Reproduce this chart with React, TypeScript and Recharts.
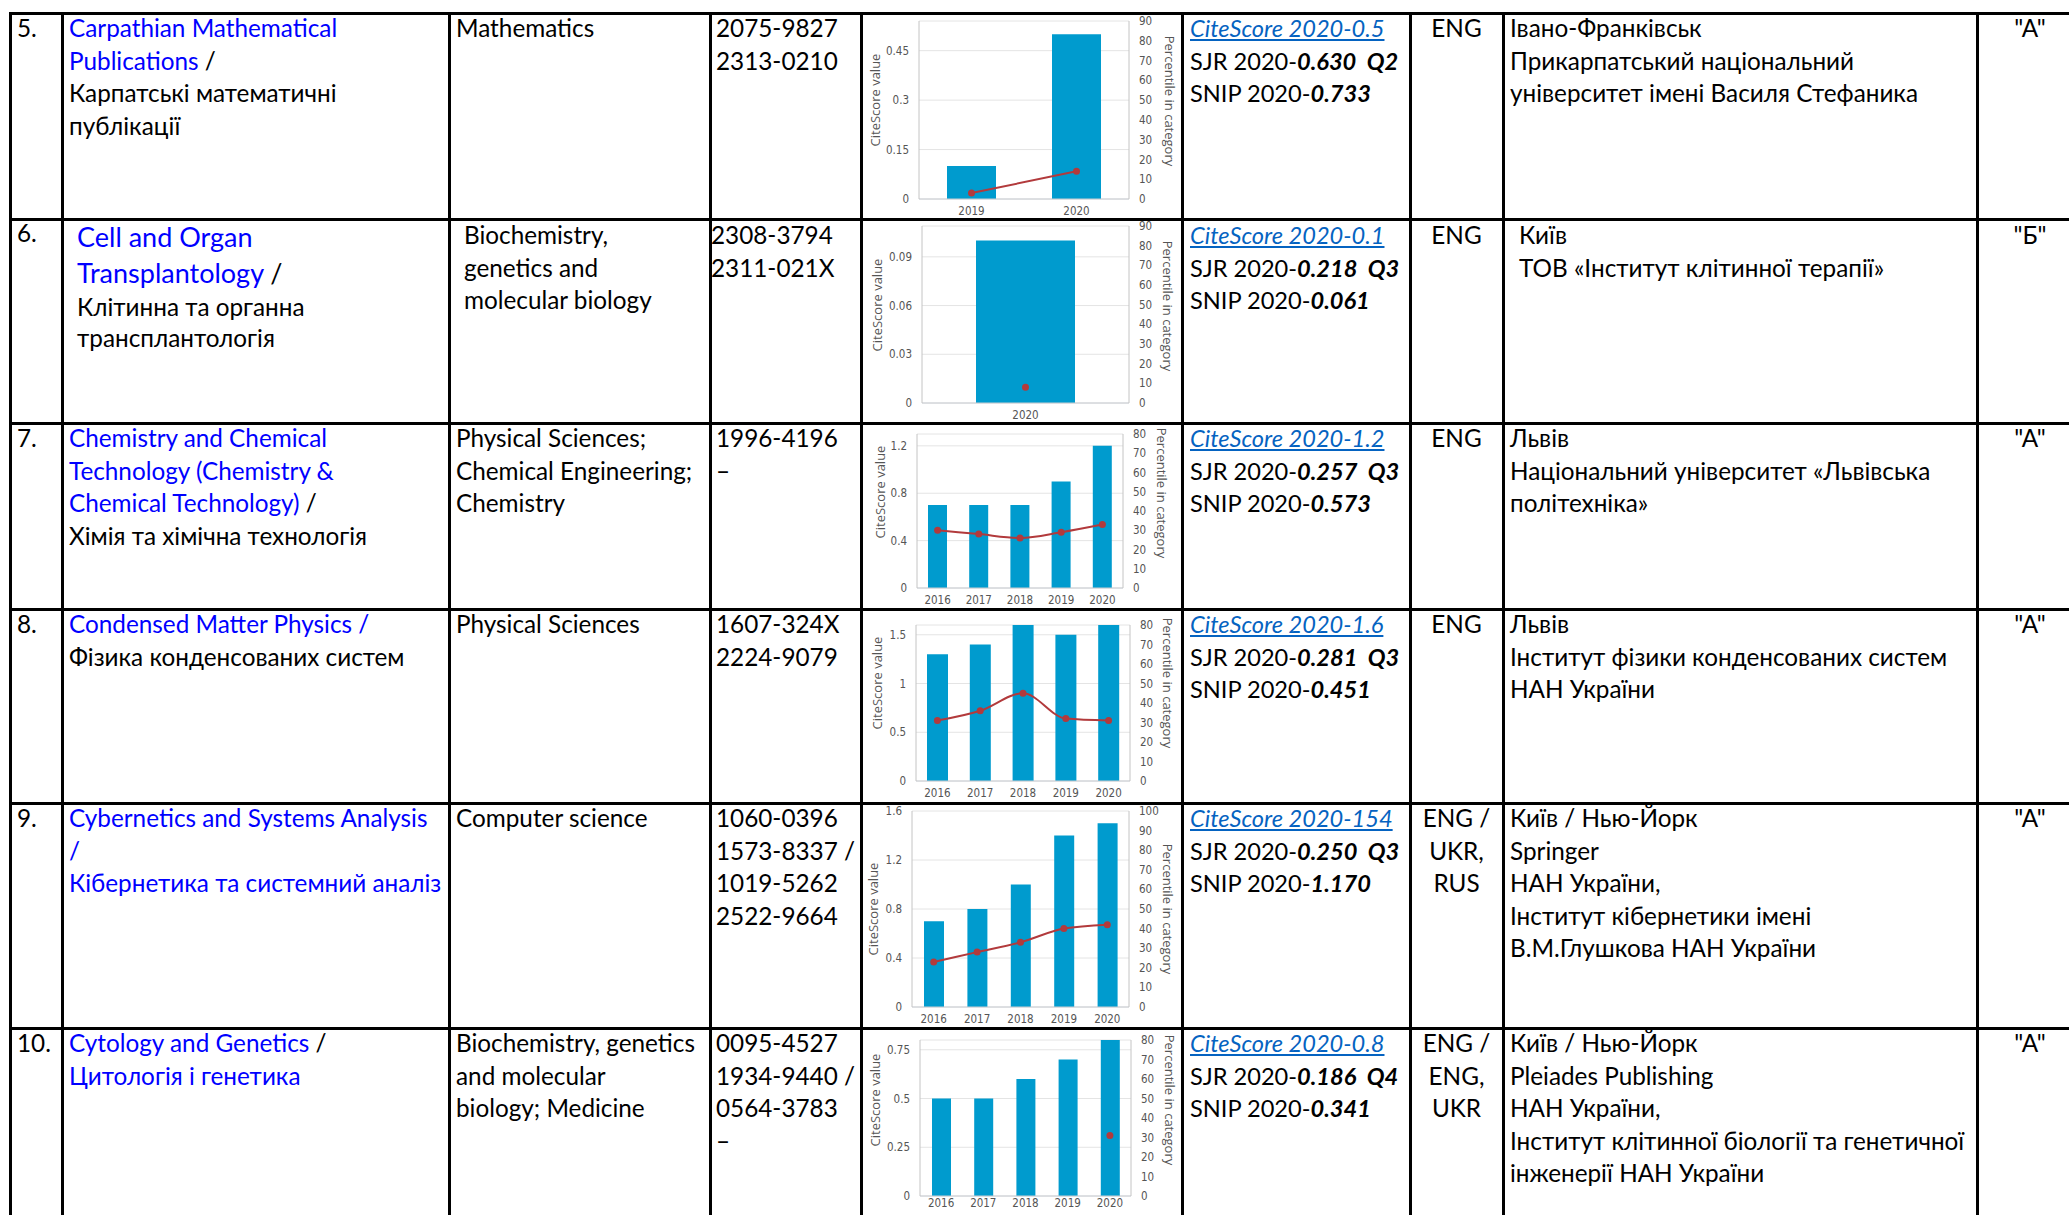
import React from "react";
import { ComposedChart, Bar, Line, XAxis, YAxis, CartesianGrid } from "recharts";

const FONT = "Lato, 'Open Sans', sans-serif";
const TICK_FONT = "'Liberation Sans Narrow', 'DejaVu Sans Condensed', 'Liberation Sans', sans-serif";
const BLUE = "#0000FF";
const LINK = "#0563C1";
const BAR = "#009BCE";
const RED = "#B23A3C";

// ---- chart data (CiteScore value, percentile in category) ----
const years5 = ["2019", "2020"];
const cite5 = [0.1, 0.5];
const pct5 = [3, 14];

const years6 = ["2020"];
const cite6 = [0.1];
const pct6 = [8];

const years5y = ["2016", "2017", "2018", "2019", "2020"];

const cite7 = [0.7, 0.7, 0.7, 0.9, 1.2];
const pct7 = [30, 28, 26, 29, 33];

const cite8 = [1.3, 1.4, 1.6, 1.5, 1.6];
const pct8 = [31, 36, 45, 32, 31];

const cite9 = [0.7, 0.8, 1.0, 1.4, 1.5];
const pct9 = [23, 28, 33, 40, 42];

const cite10 = [0.5, 0.5, 0.6, 0.7, 0.8];
const pct10 = [null, null, null, null, 31];

const pctTicks90 = [0, 10, 20, 30, 40, 50, 60, 70, 80, 90];
const pctTicks80 = [0, 10, 20, 30, 40, 50, 60, 70, 80];
const pctTicks100 = [0, 10, 20, 30, 40, 50, 60, 70, 80, 90, 100];

// ---- table text ----
const numbers = ["5.", "6.", "7.", "8.", "9.", "10."];
const subjects = [
  ["Mathematics"],
  ["Biochemistry,", "genetics and", "molecular biology"],
  ["Physical Sciences;", "Chemical Engineering;", "Chemistry"],
  ["Physical Sciences"],
  ["Computer science"],
  ["Biochemistry, genetics", "and molecular", "biology; Medicine"],
];
const issns = [
  ["2075-9827", "2313-0210"],
  ["2308-3794", "2311-021X"],
  ["1996-4196", "–"],
  ["1607-324X", "2224-9079"],
  ["1060-0396", "1573-8337 /", "1019-5262", "2522-9664"],
  ["0095-4527", "1934-9440 /", "0564-3783", "–"],
];
const citeScores = ["0.5", "0.1", "1.2", "1.6", "154", "0.8"];
const sjrs = ["0.630", "0.218", "0.257", "0.281", "0.250", "0.186"];
const quartiles = ["Q2", "Q3", "Q3", "Q3", "Q3", "Q4"];
const snips = ["0.733", "0.061", "0.573", "0.451", "1.170", "0.341"];
const langs = [["ENG"], ["ENG"], ["ENG"], ["ENG"], ["ENG /", "UKR,", "RUS"], ["ENG /", "ENG,", "UKR"]];
const places = [
  ["Івано-Франківськ", "Прикарпатський національний", "університет імені Василя Стефаника"],
  ["Київ", "ТОВ «Інститут клітинної терапії»"],
  ["Львів", "Національний університет «Львівська", "політехніка»"],
  ["Львів", "Інститут фізики конденсованих систем", "НАН України"],
  ["Київ / Нью-Йорк", "Springer", "НАН України,", "Інститут кібернетики імені", "В.М.Глушкова НАН України"],
  ["Київ / Нью-Йорк", "Pleiades Publishing", "НАН України,", "Інститут клітинної біології та генетичної", "інженерії НАН України"],
];
const grades = ['"А"', '"Б"', '"А"', '"А"', '"А"', '"А"'];

type Seg = { t: string; c?: string; b?: boolean; i?: boolean; u?: boolean };
type TL = string | Seg[];

const titles: TL[][] = [
  [[{ t: "Carpathian Mathematical", c: BLUE }], [{ t: "Publications", c: BLUE }, { t: " /" }], "Карпатські математичні", "публікації"],
  [],
  [[{ t: "Chemistry and Chemical", c: BLUE }], [{ t: "Technology (Chemistry &", c: BLUE }], [{ t: "Chemical Technology)", c: BLUE }, { t: " /" }], "Хімія та хімічна технологія"],
  [[{ t: "Condensed Matter Physics /", c: BLUE }], "Фізика конденсованих систем"],
  [[{ t: "Cybernetics and Systems Analysis", c: BLUE }], [{ t: "/", c: BLUE }], [{ t: "Кібернетика та системний аналіз", c: BLUE }]],
  [[{ t: "Cytology and Genetics", c: BLUE }, { t: " /" }], [{ t: "Цитологія і генетика", c: BLUE }]],
];

const ROW_TOP = [13, 219, 423, 609, 803, 1028];
const COL_X = [10, 62, 449, 710, 861, 1182, 1410, 1503, 1977];
const SIZE = 24.3;
const STEP = 32.5;

function T({ x, b, size = SIZE, line, center, style }: { x: number; b: number; size?: number; line: TL; center?: boolean; style?: React.CSSProperties }) {
  const segs: Seg[] = typeof line === "string" ? [{ t: line }] : line;
  const pos: React.CSSProperties = center
    ? { left: x - 150, width: 300, textAlign: "center" }
    : { left: x };
  return (
    <div style={{ position: "absolute", top: b - 0.887 * size, fontSize: size, lineHeight: `${size}px`, whiteSpace: "pre", color: "#000", ...pos, ...style }}>
      {segs.map((s, k) => (
        <span key={k} style={{ color: s.c, fontWeight: s.b ? 700 : 400, fontStyle: s.i ? "italic" : "normal", textDecoration: s.u ? "underline" : "none" }}>{s.t}</span>
      ))}
    </div>
  );
}

function Block({ x, b0, lines, step = STEP, size, center }: { x: number; b0: number; lines: TL[]; step?: number; size?: number; center?: boolean }) {
  return (
    <>
      {lines.map((l, i) => (
        <T key={i} x={x} b={b0 + i * step} line={l} size={size} center={center} />
      ))}
    </>
  );
}

type Cfg = {
  years: string[];
  cite: number[];
  pct: (number | null)[];
  box: { x: number; y: number; w: number; h: number };
  plot: { l: number; r: number; t: number; b: number };
  leftMax: number;
  leftTicks: number[];
  rightMax: number;
  rightTicks: number[];
  barSize: number;
  lt: [number, number];
  rt: [number, number];
  xm?: number;
};

const charts: Cfg[] = [
  { years: years5, cite: cite5, pct: pct5, box: { x: 861, y: 13, w: 321, h: 206 }, plot: { l: 919, r: 1129, t: 21, b: 199 }, leftMax: 0.54, leftTicks: [0, 0.15, 0.3, 0.45], rightMax: 90, rightTicks: pctTicks90, barSize: 49, lt: [875, 100], rt: [1170, 101] },
  { years: years6, cite: cite6, pct: pct6, box: { x: 861, y: 219, w: 321, h: 204 }, plot: { l: 922, r: 1129, t: 226, b: 403 }, leftMax: 0.109, leftTicks: [0, 0.03, 0.06, 0.09], rightMax: 90, rightTicks: pctTicks90, barSize: 99, lt: [877, 305], rt: [1168, 306] },
  { years: years5y, cite: cite7, pct: pct7, box: { x: 861, y: 423, w: 321, h: 186 }, plot: { l: 917, r: 1123, t: 434, b: 588 }, leftMax: 1.3, leftTicks: [0, 0.4, 0.8, 1.2], rightMax: 80, rightTicks: pctTicks80, barSize: 19, lt: [880, 492], rt: [1162, 493] },
  { years: years5y, cite: cite8, pct: pct8, box: { x: 861, y: 609, w: 321, h: 194 }, plot: { l: 916, r: 1130, t: 625, b: 781 }, leftMax: 1.6, leftTicks: [0, 0.5, 1, 1.5], rightMax: 80, rightTicks: pctTicks80, barSize: 21, lt: [877, 683], rt: [1168, 683] },
  { years: years5y, cite: cite9, pct: pct9, box: { x: 861, y: 803, w: 321, h: 225 }, plot: { l: 912, r: 1129, t: 811, b: 1007 }, leftMax: 1.6, leftTicks: [0, 0.4, 0.8, 1.2, 1.6], rightMax: 100, rightTicks: pctTicks100, barSize: 20, lt: [873, 909], rt: [1168, 909] },
  { years: years5y, cite: cite10, pct: pct10, box: { x: 861, y: 1028, w: 321, h: 187 }, plot: { l: 920, r: 1131, t: 1040, b: 1196 }, leftMax: 0.8, leftTicks: [0, 0.25, 0.5, 0.75], rightMax: 80, rightTicks: pctTicks80, barSize: 19, lt: [875, 1100], rt: [1170, 1100], xm: 3 },
];

const tick = { fontSize: 11.5, fill: "#555", fontFamily: TICK_FONT };
const titleStyle: React.CSSProperties = { fontSize: 13, fill: "#555", fontFamily: "'Open Sans', sans-serif" };

function MiniChart({ cfg }: { cfg: Cfg }) {
  const { box, plot } = cfg;
  const data = cfg.years.map((y, i) => ({ year: y, cite: cfg.cite[i], pct: cfg.pct[i] }));
  const lx = cfg.lt[0] - box.x, ly = cfg.lt[1] - box.y;
  const rx = cfg.rt[0] - box.x, ry = cfg.rt[1] - box.y;
  return (
    <div style={{ position: "absolute", left: box.x, top: box.y, width: box.w, height: box.h }}>
      <ComposedChart width={box.w} height={box.h} data={data} margin={{ top: plot.t - box.y, right: 0, bottom: 0, left: 0 }}>
        <CartesianGrid vertical={false} stroke="#e4e4e4" />
        <XAxis dataKey="year" height={box.y + box.h - plot.b} tickLine={false} tickSize={0} tickMargin={cfg.xm ?? 8} interval={0} axisLine={{ stroke: "#c8ccd2" }} tick={tick} />
        <YAxis
          width={plot.l - box.x}
          domain={[0, cfg.leftMax]}
          ticks={cfg.leftTicks}
          interval={0}
          tickLine={false}
          tickSize={0}
          tickMargin={10}
          axisLine={{ stroke: "#c4c4c4" }}
          tick={tick}
          label={{ content: () => <text x={lx} y={ly} transform={`rotate(-90 ${lx} ${ly})`} textAnchor="middle" dominantBaseline="central" style={titleStyle}>CiteScore value</text> }}
        />
        <YAxis
          yAxisId="right"
          orientation="right"
          width={box.x + box.w - plot.r}
          domain={[0, cfg.rightMax]}
          ticks={cfg.rightTicks}
          interval={0}
          tickLine={false}
          tickSize={0}
          tickMargin={10}
          axisLine={{ stroke: "#c4c4c4" }}
          tick={tick}
          label={{ content: () => <text x={rx} y={ry} transform={`rotate(90 ${rx} ${ry})`} textAnchor="middle" dominantBaseline="central" style={titleStyle}>Percentile in category</text> }}
        />
        <Bar dataKey="cite" fill={BAR} barSize={cfg.barSize} isAnimationActive={false} />
        <Line yAxisId="right" type="monotone" dataKey="pct" stroke={RED} strokeWidth={2} dot={{ r: 3.5, fill: RED, stroke: RED, strokeWidth: 0 }} isAnimationActive={false} />
      </ComposedChart>
    </div>
  );
}

export default function App() {
  return (
    <div style={{ position: "absolute", left: 0, top: 0, width: 2069, height: 1215, overflow: "hidden", background: "#fff", fontFamily: FONT }}>
      {charts.map((c, i) => (
        <MiniChart key={i} cfg={c} />
      ))}

      {ROW_TOP.map((top, r) => {
        const b0 = top + 25;
        const ind = r === 1;
        return (
          <React.Fragment key={r}>
            <T x={17} b={r === 1 ? 243 : b0} line={numbers[r]} />
            {r === 1 ? (
              <>
                <Block x={77} b0={247} lines={[[{ t: "Cell and Organ", c: BLUE }], [{ t: "Transplantology", c: BLUE }, { t: " /" }]]} step={36} size={27} />
                <Block x={77} b0={317} lines={["Клітинна та органна", "трансплантологія"]} step={31} />
              </>
            ) : (
              <Block x={69} b0={b0} lines={titles[r]} />
            )}
            <Block x={ind ? 464 : 456} b0={ind ? 245 : b0} lines={subjects[r]} />
            <Block x={ind ? 711 : 716} b0={ind ? 245 : b0} lines={issns[r]} />
            <Block
              x={1190}
              b0={ind ? 245 : b0}
              size={23.6}
              lines={[
                [{ t: `CiteScore 2020-${citeScores[r]}`, c: LINK, i: true, u: true }],
                [{ t: "SJR 2020-" }, { t: `${sjrs[r]}  ${quartiles[r]}`, b: true, i: true }],
                [{ t: "SNIP 2020-" }, { t: snips[r], b: true, i: true }],
              ]}
            />
            <Block x={1456.5} b0={ind ? 245 : b0} lines={langs[r]} center />
            <Block x={ind ? 1519 : 1510} b0={ind ? 245 : b0} lines={places[r]} />
            <T x={2030} b={ind ? 245 : b0} line={grades[r]} center />
          </React.Fragment>
        );
      })}

      {ROW_TOP.map((y, i) => (
        <div key={"h" + i} style={{ position: "absolute", left: 9, top: y - 1.5, width: 2069, height: 3, background: "#000" }} />
      ))}
      {COL_X.map((x, i) => (
        <div key={"v" + i} style={{ position: "absolute", left: x - 1.5, top: 12, width: 3, height: 1215, background: "#000" }} />
      ))}
    </div>
  );
}
